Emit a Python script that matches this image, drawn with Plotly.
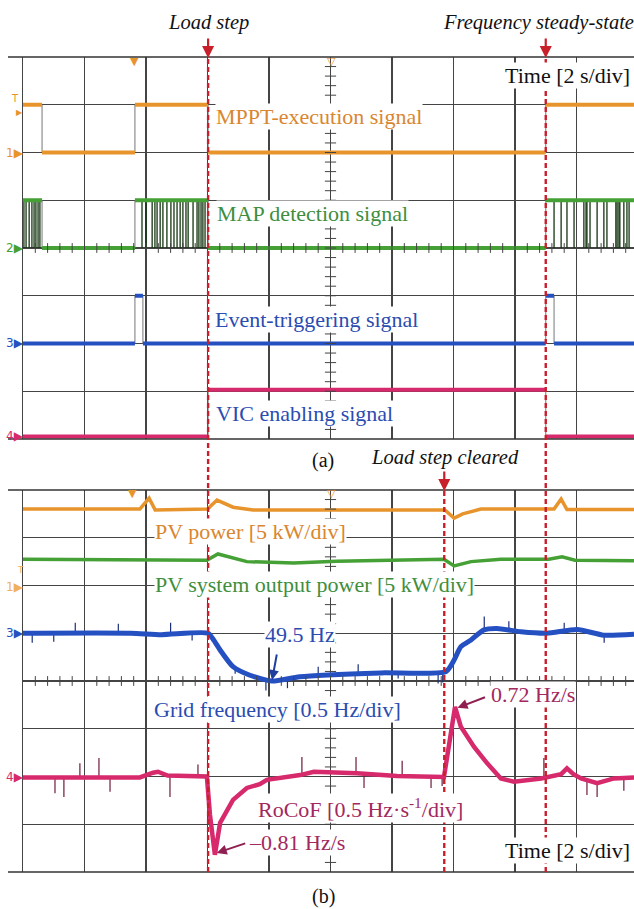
import numpy as np
import plotly.graph_objects as go

# ---------------- data ----------------
T_END = 19.87          # visible time span [s], 2 s/div
T_LOAD = 6.02          # load step
T_CLEAR = 13.70        # load step cleared
T_STEADY = 17.00       # frequency steady-state

# (a) digital channels: switching instants [s] and logic levels
mppt_t = [0.0, 0.62, 3.64, 6.02, 17.0]
mppt_lv = [1, 0, 1, 0, 1]
map_t = [0.0, 0.62, 3.64, 6.02, 17.0]
map_lv = [1, 0, 1, 0, 1]
map_spike_t = [0.03, 0.10, 0.20, 0.29, 0.36, 0.42, 0.49, 0.55,
               3.87, 4.00, 4.20, 4.29, 4.36, 4.46, 4.55, 4.68, 4.81, 4.91,
               5.01, 5.11, 5.20, 5.30, 5.37, 5.53, 5.66, 5.72, 5.79, 5.85, 5.92,
               17.27, 17.50, 17.69, 17.92, 18.24, 18.31, 18.34, 18.44, 18.67,
               18.89, 18.99, 19.28, 19.32, 19.38, 19.41, 19.54, 19.64, 19.71]
event_t = [0.0, 3.64, 3.90, 17.0, 17.27]
event_lv = [0, 1, 0, 1, 0]
vic_t = [0.0, 6.02, 17.0]
vic_lv = [0, 1, 0]

# (b) analog channels, values in screen divisions
pv_t = [0.0, 3.80, 4.10, 4.30, 6.00, 6.31, 6.83, 7.48, 13.72, 14.02, 14.30, 14.89, 17.27, 17.50, 17.69, T_END]
pv_v = [7.60, 7.60, 7.83, 7.58, 7.60, 7.79, 7.64, 7.58, 7.58, 7.41, 7.50, 7.60, 7.60, 7.81, 7.59, 7.59]

out_t = [0.0, 4.0, 5.98, 6.34, 7.28, 8.80, 10.20, 13.69, 14.02, 14.57, 15.54, 17.10, 17.53, 17.95, T_END]
out_v = [6.55, 6.53, 6.53, 6.66, 6.50, 6.47, 6.51, 6.55, 6.41, 6.50, 6.55, 6.55, 6.60, 6.53, 6.52]

freq_t = [0.0, 3.5, 4.5, 6.02, 6.20, 6.41, 6.83, 7.38, 8.10, 9.00, 11.64, 13.76, 14.02, 14.24,
          14.57, 14.99, 15.41, 16.20, 17.04, 18.02, 18.89, T_END]
freq_v = [5.00, 5.00, 4.97, 5.00, 4.86, 4.65, 4.30, 4.12, 4.00, 4.09, 4.17, 4.20, 4.44, 4.72,
          4.86, 5.07, 5.10, 5.03, 5.00, 5.08, 4.96, 4.98]

rocof_t = [0.0, 2.0, 3.80, 4.23, 4.39, 4.70, 5.98, 6.08, 6.24, 6.41, 6.83, 7.28, 7.48, 7.70, 7.93,
           9.01, 9.46, 10.86, 12.16, 13.69, 14.05, 14.24, 14.67, 15.09, 15.54, 15.97, 16.85,
           17.50, 17.69, 17.90, 18.15, 18.67, 19.22, T_END]
rocof_v = [1.98, 1.97, 1.98, 2.08, 2.10, 2.02, 2.00, 1.20, 0.36, 1.03, 1.51, 1.76, 1.80, 1.84, 1.93,
           2.03, 2.10, 2.07, 2.01, 1.99, 3.46, 3.04, 2.62, 2.28, 1.96, 1.89, 1.96,
           2.05, 2.17, 2.05, 1.96, 1.86, 1.96, 1.98]

freq_spike_t = [0.30, 1.00, 1.70, 3.10, 4.80, 5.50, 6.90, 7.90, 8.60, 9.60, 10.90, 12.20, 13.50, 13.65,
                15.00, 15.80, 17.60, 18.90]
freq_spike_v = [4.80, 4.82, 5.22, 5.20, 5.22, 4.85, 4.15, 3.80, 3.85, 4.30, 4.35, 4.05, 3.95, 3.97,
                5.35, 5.25, 5.22, 4.80]
rocof_spike_t = [1.04, 1.33, 1.85, 2.47, 2.83, 4.78, 5.69, 9.07, 10.83, 11.09, 12.33, 13.27, 13.63,
                 16.94, 18.34, 18.67, 19.54]
rocof_spike_v = [1.65, 1.57, 2.28, 2.39, 1.68, 1.57, 2.25, 2.41, 2.41, 1.76, 2.33, 1.76, 1.80,
                 2.39, 1.61, 1.57, 1.70]

# ---------------- layout helpers ----------------
W, H = 634, 909
def px(x):
    return x / W
def py(y):
    return 1 - y / H

SERIF = "Liberation Serif, Times New Roman, serif"
GRID = "#444444"
RED = "#C8202A"
C_OR, C_GR, C_BL, C_RO = "#E8942C", "#45A035", "#2550C2", "#D62A6C"
T_OR, T_GR, T_BL, T_RO = "#D98630", "#3E8E3E", "#2B4CB0", "#A2285E"
FS = 22

fig = go.Figure()

def step_paths(ts, lv, base, amp):
    edges = list(ts) + [T_END]
    hx, hy = [], []
    for i, l in enumerate(lv):
        hx += [edges[i], edges[i + 1], None]
        hy += [base + amp * l] * 2 + [None]
    fx, fy = [], []
    for i, l in enumerate(lv):
        fx += [edges[i], edges[i + 1]]
        fy += [base + amp * l] * 2
    return hx, hy, fx, fy

def add_digital(ts, lv, base, amp, color, spikes=None, spike_color=None):
    hx, hy, fx, fy = step_paths(ts, lv, base, amp)
    fig.add_trace(go.Scatter(x=fx, y=fy, mode="lines", line=dict(color="#777", width=1),
                             xaxis="x", yaxis="y", hoverinfo="skip", showlegend=False))
    if spikes:
        sx, sy = [], []
        for s in spikes:
            sx += [s, s, None]
            sy += [base, base + amp, None]
        fig.add_trace(go.Scatter(x=sx, y=sy, mode="lines", line=dict(color=spike_color, width=1.3),
                                 xaxis="x", yaxis="y", hoverinfo="skip", showlegend=False))
    fig.add_trace(go.Scatter(x=hx, y=hy, mode="lines", line=dict(color=color, width=4),
                             xaxis="x", yaxis="y", hoverinfo="skip", showlegend=False))

add_digital(mppt_t, mppt_lv, 6.0, 1.0, C_OR)
add_digital(map_t, map_lv, 4.0, 1.0, C_GR, map_spike_t, "#143510")
add_digital(event_t, event_lv, 2.0, 1.0, C_BL)
add_digital(vic_t, vic_lv, 0.05, 0.98, C_RO)

def add_analog(t, v, color, width, spikes_t=None, spikes_v=None, spike_color=None, shape="linear"):
    if spikes_t:
        base = np.interp(spikes_t, t, v)
        sx, sy = [], []
        for s, b, tip in zip(spikes_t, base, spikes_v):
            sx += [s, s, None]
            sy += [b, tip, None]
        fig.add_trace(go.Scatter(x=sx, y=sy, mode="lines", line=dict(color=spike_color, width=1.2),
                                 xaxis="x2", yaxis="y2", hoverinfo="skip", showlegend=False))
    fig.add_trace(go.Scatter(x=t, y=v, mode="lines",
                             line=dict(color=color, width=width, shape=shape, smoothing=0.6),
                             xaxis="x2", yaxis="y2", hoverinfo="skip", showlegend=False))

add_analog(pv_t, pv_v, C_OR, 3.5)
add_analog(out_t, out_v, C_GR, 3.5)
add_analog(freq_t, freq_v, C_BL, 5, freq_spike_t, freq_spike_v, "#1a2f7a", shape="spline")
add_analog(rocof_t, rocof_v, C_RO, 4.5, rocof_spike_t, rocof_spike_v, "#6e1a3c")

# oscilloscope centre-axis ticks (grid decoration)
for xa, ya in (("x", "y"), ("x2", "y2")):
    yt = np.arange(0.2, 8.0, 0.2)
    fig.add_trace(go.Scatter(x=[10.0] * len(yt), y=yt, mode="markers",
                             marker=dict(symbol="line-ew", size=8, line=dict(color=GRID, width=1)),
                             xaxis=xa, yaxis=ya, hoverinfo="skip", showlegend=False))
    xt = np.arange(0.4, T_END, 0.4)
    fig.add_trace(go.Scatter(x=xt, y=[4.0] * len(xt), mode="markers",
                             marker=dict(symbol="line-ns", size=7, line=dict(color=GRID, width=1)),
                             xaxis=xa, yaxis=ya, hoverinfo="skip", showlegend=False))

ax_common = dict(range=[0, T_END], dtick=2, tick0=0, showgrid=True, gridcolor=GRID, gridwidth=1.2,
                 zeroline=False, showticklabels=False, ticks="", showline=False,
                 domain=[px(23), 1], fixedrange=True)
ay_common = dict(range=[0, 8], dtick=1, tick0=0, showgrid=True, gridcolor=GRID, gridwidth=1.2,
                 zeroline=False, showticklabels=False, ticks="", showline=True,
                 linecolor=GRID, linewidth=1.2, fixedrange=True)

fig.update_layout(
    width=W, height=H, margin=dict(l=0, r=0, t=0, b=0),
    paper_bgcolor="white", plot_bgcolor="white", showlegend=False,
    xaxis=dict(anchor="y", **ax_common),
    yaxis=dict(anchor="x", domain=[py(439), py(57)], **ay_common),
    xaxis2=dict(anchor="y2", **ax_common),
    yaxis2=dict(anchor="x2", domain=[py(872), py(490)], **ay_common),
)

shapes = []
# frame lines (top/bottom) extend to the channel-marker strip
for y in (57, 439, 490, 872):
    shapes.append(dict(type="line", xref="paper", yref="paper", x0=px(8), x1=1, y0=py(y), y1=py(y),
                       line=dict(color="#333", width=1.3), layer="above"))
# event markers
for t, ytop in ((T_LOAD, 57), (T_STEADY, 57), (T_CLEAR, 490)):
    shapes.append(dict(type="line", xref="x", yref="paper", x0=t, x1=t, y0=py(872), y1=py(ytop),
                       line=dict(color=RED, width=2.4, dash="5px,3px"), layer="above"))
fig.update_layout(shapes=shapes)

ann = []
def label(text, x, y, color, size=FS, italic=False, anchor="left", bg="white"):
    ann.append(dict(text=("<i>%s</i>" % text) if italic else text, x=px(x), y=py(y),
                    xref="paper", yref="paper", xanchor=anchor, yanchor="middle", showarrow=False,
                    font=dict(family=SERIF, size=size, color=color),
                    bgcolor=bg, borderpad=0))

# event titles + arrows
label("Load step", 208, 22, "#111", size=20.5, italic=True, anchor="center", bg=None)
label("Frequency steady-state", 538, 22, "#111", size=20.5, italic=True, anchor="center", bg=None)
label("Load step cleared", 445, 457, "#111", size=20.5, italic=True, anchor="center", bg=None)
for t, ytip in ((T_LOAD, 58), (T_STEADY, 58), (T_CLEAR, 491)):
    ann.append(dict(text="", x=t, y=py(ytip), xref="x", yref="paper", showarrow=True,
                    ax=0, ay=-21, arrowhead=2, arrowsize=1.1, arrowwidth=2.2, arrowcolor=RED))

# panel (a) labels
label("Time [2 s/div]", 504, 76, "#111")
label("MPPT-execution signal", 215, 116, T_OR)
label("MAP detection signal", 216, 213, T_GR)
label("Event-triggering signal", 214, 320, T_BL)
label("VIC enabling signal", 215, 413, T_BL)
label("(a)", 323, 460, "#111", size=20, anchor="center", bg=None)

# panel (b) labels
label("PV power [5 kW/div]", 154, 531, T_OR)
label("PV system output power [5 kW/div]", 154, 584, T_GR)
label("49.5 Hz", 264, 634, T_BL)
label("Grid frequency [0.5 Hz/div]", 153, 709, T_BL)
label("0.72 Hz/s", 490, 694, T_RO)
label("RoCoF [0.5 Hz·s<sup>-1</sup>/div]", 257, 808, T_RO)
label("\u20130.81 Hz/s", 248, 842, T_RO)
label("Time [2 s/div]", 504, 850, "#111")
label("(b)", 323, 896, "#111", size=20, anchor="center", bg=None)

# value arrows
ann.append(dict(text="", x=8.1, y=4.02, xref="x2", yref="y2", showarrow=True, ax=5, ay=-27,
                arrowhead=2, arrowsize=1.0, arrowwidth=2, arrowcolor="#1f3f9e"))
ann.append(dict(text="", x=14.13, y=3.44, xref="x2", yref="y2", showarrow=True, ax=29, ay=-11,
                arrowhead=2, arrowsize=1.0, arrowwidth=2, arrowcolor="#8e1f50"))
ann.append(dict(text="", x=6.30, y=0.40, xref="x2", yref="y2", showarrow=True, ax=30, ay=-10,
                arrowhead=2, arrowsize=1.0, arrowwidth=2, arrowcolor="#8e1f50"))

# channel markers on the left strip
def marker(text, x, y, color, size=12):
    ann.append(dict(text=text, x=px(x), y=py(y), xref="paper", yref="paper", xanchor="center",
                    yanchor="middle", showarrow=False,
                    font=dict(family="DejaVu Sans", size=size, color=color)))
marker("T", 15, 99, C_OR, 10)
marker("\u25B6", 19, 112, C_OR, 8)
marker("1\u25B6", 15, 153, C_OR, 12)
marker("2\u25B6", 15, 248, C_GR, 12)
marker("3\u25B6", 15, 343, C_BL, 12)
marker("4\u25B6", 15, 436, C_RO, 12)
marker("T", 20, 570, "#F0B060", 9)
marker("1\u25B6", 15, 587, "#F0B060", 12)
marker("3\u25B6", 15, 633, C_BL, 12)
marker("4\u25B6", 15, 777, C_RO, 12)
# trigger markers on the top edge
marker("\u25BC", 134, 61, C_OR, 11)
marker("\u25BD", 331, 61, C_OR, 11)
marker("\u25BC", 132, 494, C_OR, 11)
marker("\u25BD", 331, 494, C_OR, 11)

fig.update_layout(annotations=ann)
fig.write_html("out.html", config={"displayModeBar": False, "staticPlot": True},
               post_script="document.body.style.margin='0';")
